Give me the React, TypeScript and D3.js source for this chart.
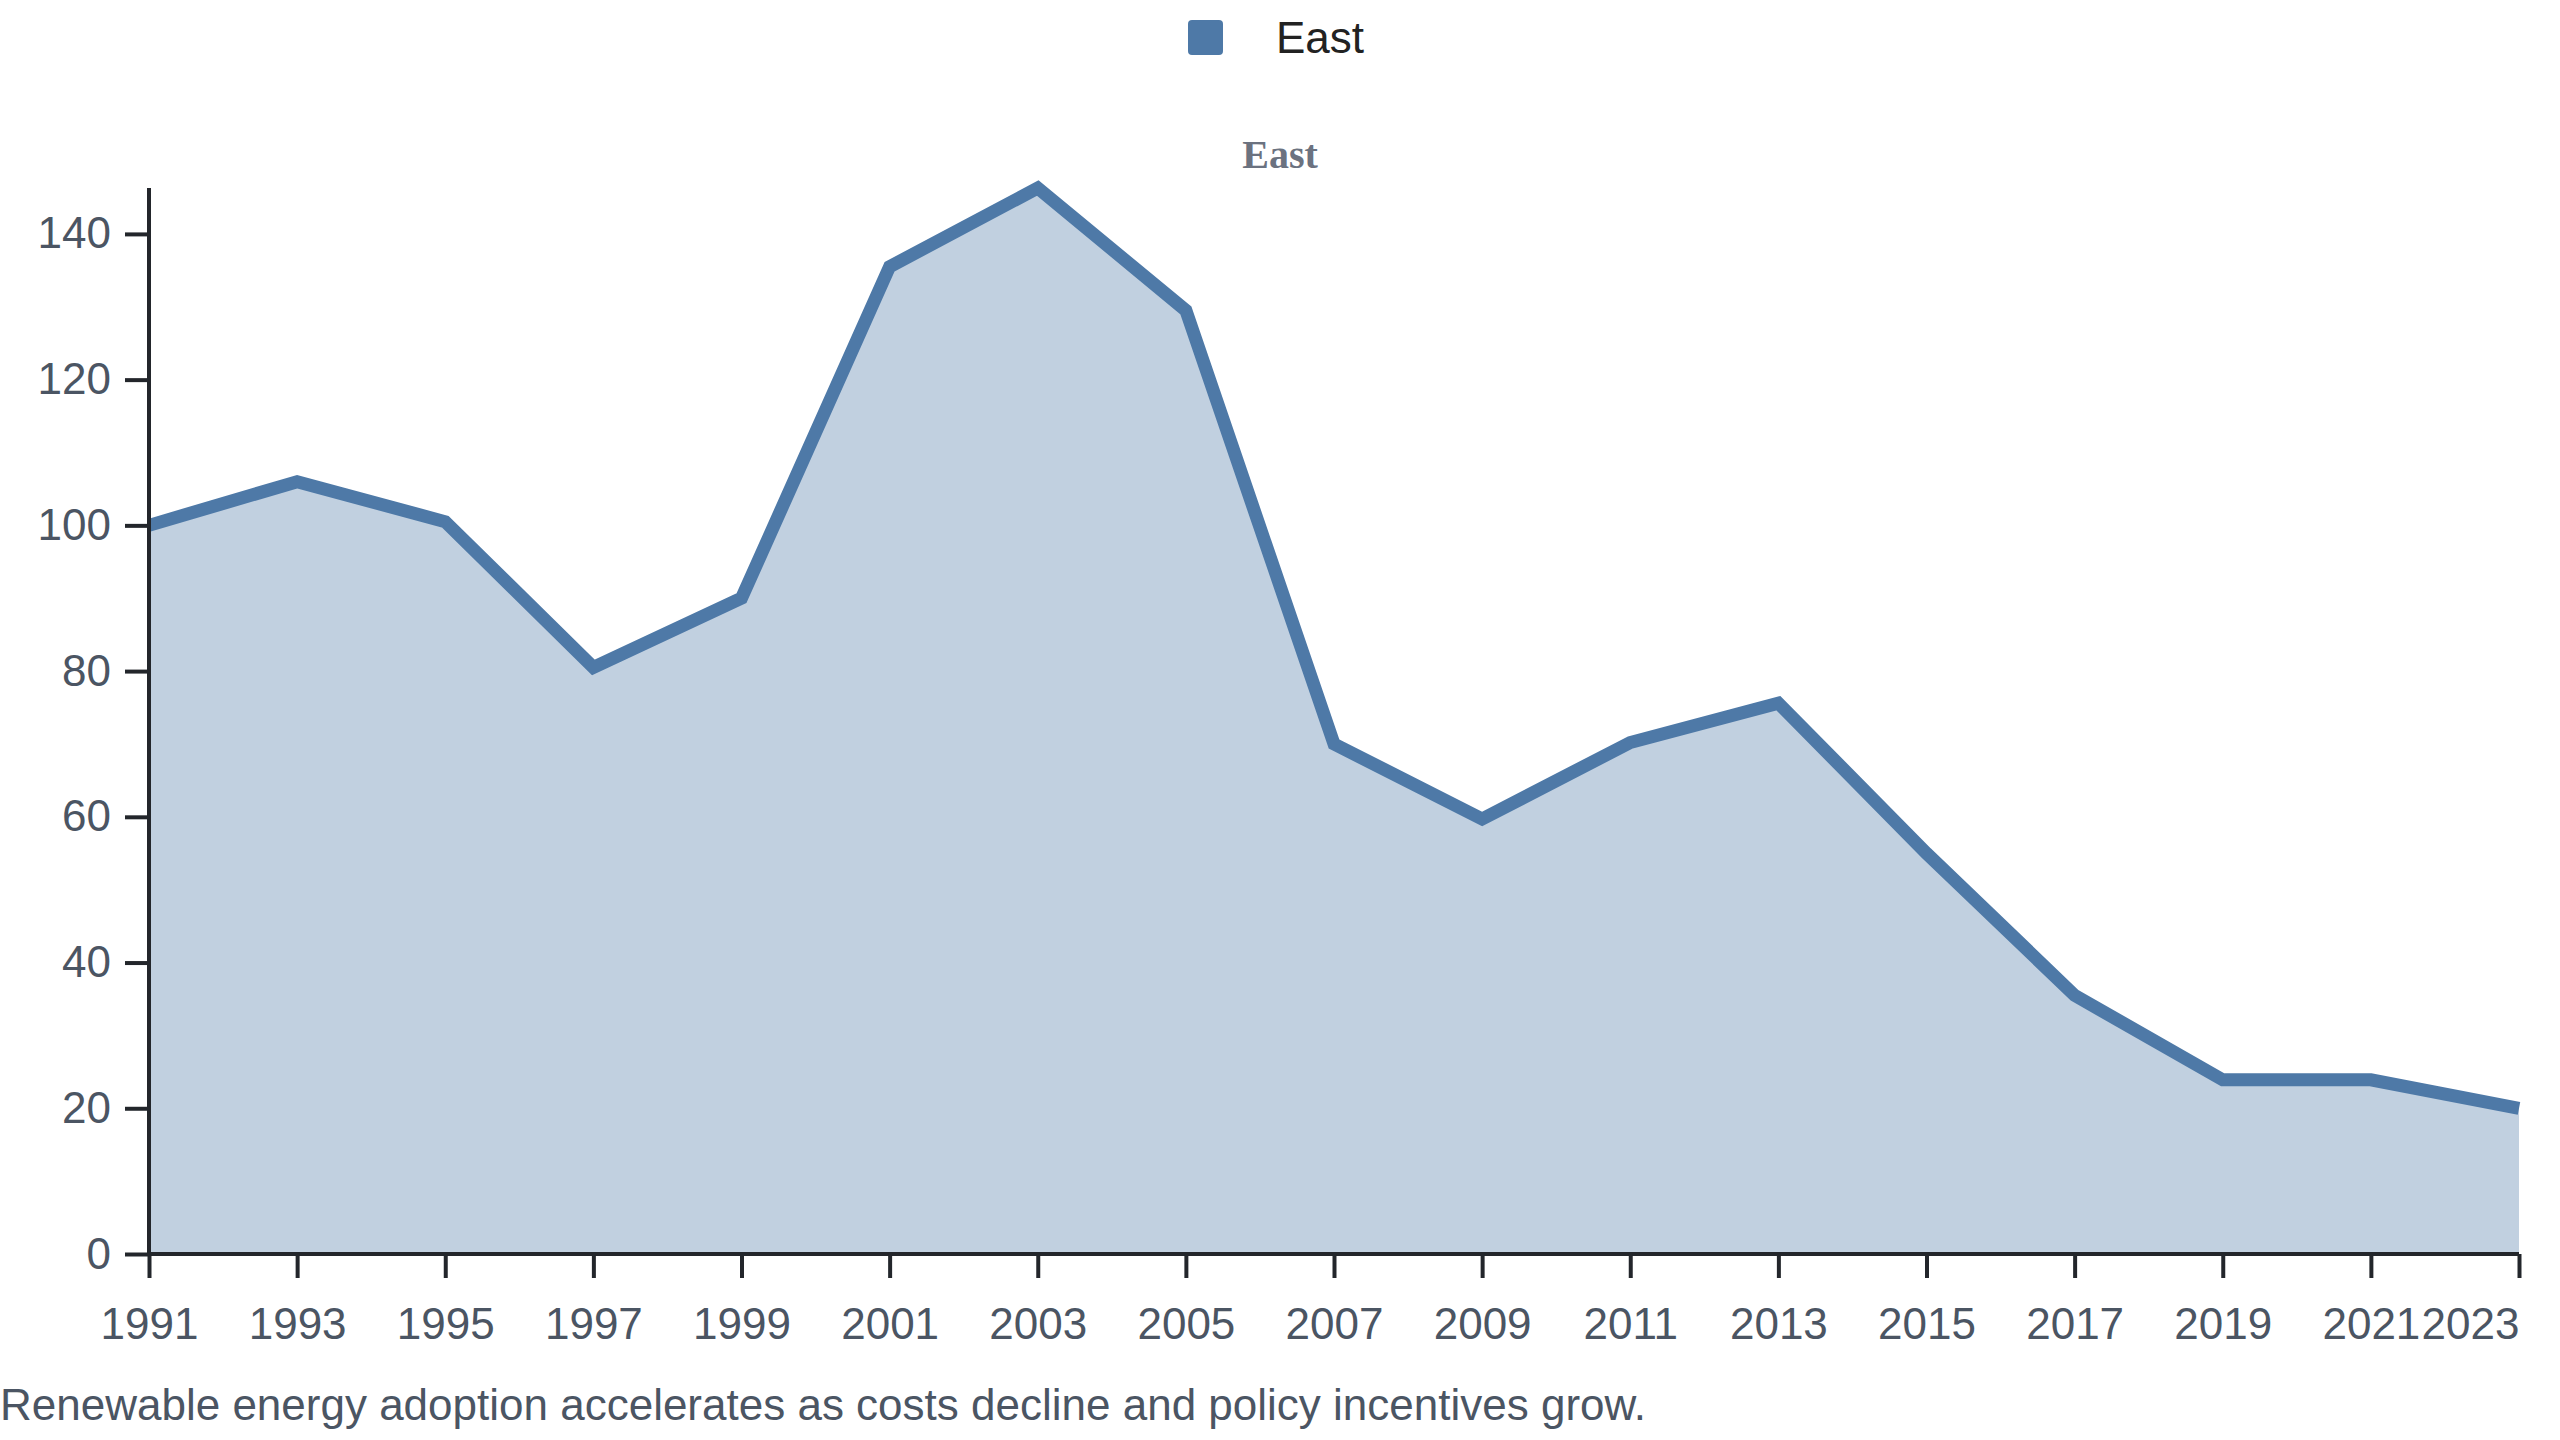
import { useEffect, useRef } from 'react';
import * as d3 from 'd3';

const years = [1991, 1993, 1995, 1997, 1999, 2001, 2003, 2005, 2007, 2009, 2011, 2013, 2015, 2017, 2019, 2021, 2023];
const eastValues = [100, 106, 100.5, 80.5, 90, 135.5, 146.3, 129.5, 70, 59.7, 70.2, 75.6, 55, 35.5, 23.9, 23.9, 20];
const yTicks = [0, 20, 40, 60, 80, 100, 120, 140];
const seriesName = 'East';
const caption = 'Renewable energy adoption accelerates as costs decline and policy incentives grow.';

const W = 2560;
const H = 1440;
const margin = { top: 188, right: 41, bottom: 186, left: 149 };
const color = '#4e79a7';
const font = '"Liberation Sans", Arial, sans-serif';

export default function App() {
  const xAxisRef = useRef<SVGGElement>(null);
  const yAxisRef = useRef<SVGGElement>(null);

  const data = years.map((year, i) => ({ year, value: eastValues[i] }));

  const x = d3.scaleLinear().domain([years[0], years[years.length - 1]]).range([margin.left, W - margin.right]);
  const y = d3.scaleLinear().domain([0, d3.max(eastValues) as number]).range([H - margin.bottom, margin.top]);

  const area = d3
    .area<{ year: number; value: number }>()
    .x((d) => x(d.year))
    .y0(y(0))
    .y1((d) => y(d.value));
  const line = d3
    .line<{ year: number; value: number }>()
    .x((d) => x(d.year))
    .y((d) => y(d.value));

  useEffect(() => {
    if (!xAxisRef.current || !yAxisRef.current) return;

    const xg = d3.select(xAxisRef.current);
    xg.selectAll('*').remove();
    xg.call(d3.axisBottom(x).tickValues(years).tickFormat(d3.format('d')).tickSize(24).tickPadding(30));
    xg.selectAll('.domain, .tick line').attr('stroke', '#23262b').attr('stroke-width', 4);
    xg.selectAll('.tick text')
      .attr('font-size', 44)
      .attr('font-family', font)
      .attr('fill', '#4b5563')
      .attr('text-anchor', (_, i) => (i === years.length - 1 ? 'end' : 'middle'));
    xg.select('.domain').attr('d', `M${x.range()[0]},0H${x.range()[1]}`);

    const yg = d3.select(yAxisRef.current);
    yg.selectAll('*').remove();
    yg.call(d3.axisLeft(y).tickValues(yTicks).tickSize(24).tickPadding(14));
    yg.selectAll('.domain, .tick line').attr('stroke', '#23262b').attr('stroke-width', 4);
    yg.select('.domain').attr('d', `M0,${y.range()[0]}V${y.range()[1]}`);
    yg.selectAll('.tick text').attr('font-size', 44).attr('font-family', font).attr('fill', '#4b5563');
  }, []);

  return (
    <div style={{ position: 'absolute', left: 0, top: 0, width: W, height: H, background: '#fff' }}>
      <svg width={W} height={H}>
        <g>
          <rect x={1188} y={20} width={35} height={35} rx={4} fill={color} />
          <text x={1276} y={53} fontSize={44} fontFamily={font} fill="#222">
            {seriesName}
          </text>
        </g>
        <text
          x={W / 2}
          y={168}
          textAnchor="middle"
          fontSize={40}
          fontWeight="bold"
          fontFamily='"Liberation Serif", "Times New Roman", serif'
          fill="#6b7280"
        >
          {seriesName}
        </text>
        <path d={area(data) ?? ''} fill={color} fillOpacity={0.35} />
        <path d={line(data) ?? ''} fill="none" stroke={color} strokeWidth={13} />
        <g ref={xAxisRef} transform={`translate(0,${H - margin.bottom})`} />
        <g ref={yAxisRef} transform={`translate(${margin.left},0)`} />
        <text x={0} y={1420} fontSize={44} fontFamily={font} fill="#4b5563">
          {caption}
        </text>
      </svg>
    </div>
  );
}
